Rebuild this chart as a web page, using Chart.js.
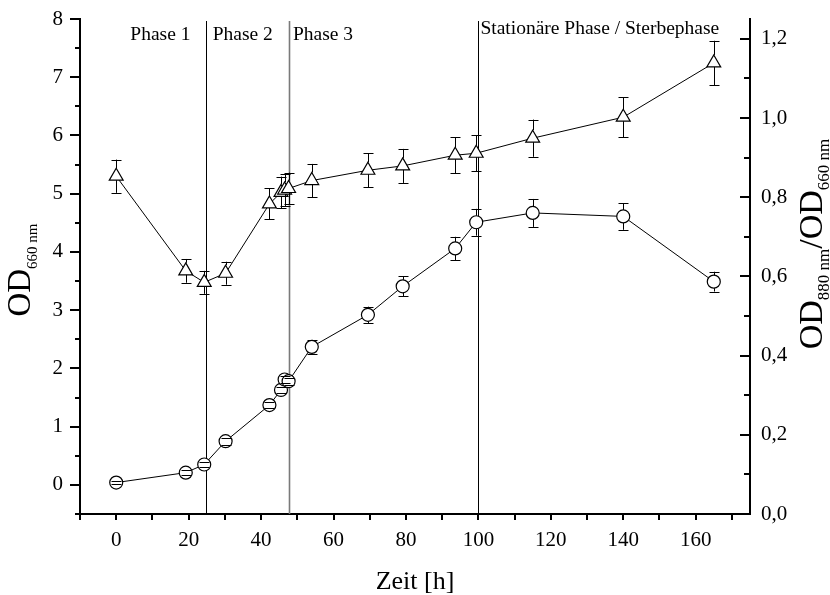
<!DOCTYPE html>
<html>
<head>
<meta charset="utf-8">
<title>Wachstum</title>
<script src="https://cdn.jsdelivr.net/npm/chart.js@4.4.1/dist/chart.umd.min.js"></script>
<style>
    html, body { margin: 0; padding: 0; background: #fff; }
    #wrap { width: 830px; height: 595px; }
</style>
</head>
<body>
<div id="wrap"><canvas id="growthChart" width="830" height="595"></canvas></div>
<script>
// Probenahme-Zeitpunkte [h]
const zeit = [0, 19.2, 24.3, 30.2, 42.3, 45.5, 46.5, 47.6, 54, 69.5, 79.1, 93.6, 99.4, 115, 140, 165];

// OD 660 nm (linke Achse) + Standardabweichung
const od660 = [0.04, 0.21, 0.35, 0.75, 1.37, 1.63, 1.81, 1.78, 2.37, 2.92, 3.41, 4.06, 4.51, 4.67, 4.61, 3.49];
const od660Err = [0.03, 0.04, 0.05, 0.06, 0.05, 0.05, 0.06, 0.06, 0.12, 0.14, 0.17, 0.2, 0.23, 0.24, 0.23, 0.17];

// OD 880 nm / OD 660 nm (rechte Achse) + Standardabweichung
const quotient = [0.853, 0.614, 0.585, 0.608, 0.783, 0.812, 0.818, 0.822, 0.842, 0.868, 0.879, 0.906, 0.911, 0.949, 1.002, 1.139];
const quotientErr = [0.042, 0.03, 0.029, 0.029, 0.039, 0.04, 0.04, 0.04, 0.042, 0.043, 0.043, 0.045, 0.045, 0.047, 0.05, 0.056];

// Achsenbeschriftung
const xTicks = [0, 20, 40, 60, 80, 100, 120, 140, 160];
const xMinor = [-10, 10, 30, 50, 70, 90, 110, 130, 150, 170];
const yLeftTicks = [0, 1, 2, 3, 4, 5, 6, 7, 8];
const yLeftMinor = [-0.5, 0.5, 1.5, 2.5, 3.5, 4.5, 5.5, 6.5, 7.5];
const yRightTicks = [0, 0.2, 0.4, 0.6, 0.8, 1.0, 1.2];
const yRightMinor = [0.1, 0.3, 0.5, 0.7, 0.9, 1.1];

// Phasengrenzen [h]
const phasenGrenzen = [24.7, 47.7, 100];
const phasenNamen = ['Phase 1', 'Phase 2', 'Phase 3', 'Stationäre Phase / Sterbephase'];

const SERIF = "'Liberation Serif', 'Times New Roman', serif";
Chart.defaults.font.family = SERIF;
Chart.defaults.font.size = 21;
Chart.defaults.color = '#000';

// Fehlerbalken: Linie vom Symbolrand bis zur Kappe
function drawErrorBars(chart, dsIndex, errors, edgeTop, edgeBottom) {
    const ctx = chart.ctx;
    const meta = chart.getDatasetMeta(dsIndex);
    const yScale = chart.scales[meta.yAxisID];
    const values = chart.data.datasets[dsIndex].data;
    ctx.save();
    ctx.strokeStyle = '#000';
    ctx.lineWidth = 1;
    meta.data.forEach((pt, i) => {
        const x = Math.round(pt.x) + 0.5;
        const y = pt.y;
        const yTop = yScale.getPixelForValue(values[i].y + errors[i]);
        const yBot = yScale.getPixelForValue(values[i].y - errors[i]);
        ctx.beginPath();
        if (y - yTop > edgeTop) {
            ctx.moveTo(x, yTop);
            ctx.lineTo(x, y - edgeTop);
        }
        if (yBot - y > edgeBottom) {
            ctx.moveTo(x, y + edgeBottom);
            ctx.lineTo(x, yBot);
        }
        ctx.moveTo(x - 5, Math.round(yTop) + 0.5);
        ctx.lineTo(x + 5, Math.round(yTop) + 0.5);
        ctx.moveTo(x - 5, Math.round(yBot) + 0.5);
        ctx.lineTo(x + 5, Math.round(yBot) + 0.5);
        ctx.stroke();
    });
    ctx.restore();
}

// Text mit Tiefstellung, um -90° gedreht
function drawRotatedTitle(ctx, cy, baseX, parts) {
    ctx.save();
    let total = 0;
    parts.forEach(p => {
        ctx.font = p.size + 'px ' + SERIF;
        p.w = ctx.measureText(p.text).width;
        total += p.w;
    });
    ctx.translate(baseX, cy);
    ctx.rotate(-Math.PI / 2);
    ctx.fillStyle = '#000';
    ctx.textBaseline = 'alphabetic';
    ctx.textAlign = 'left';
    let pos = -total / 2;
    parts.forEach(p => {
        ctx.font = p.size + 'px ' + SERIF;
        ctx.fillText(p.text, pos, p.shift || 0);
        pos += p.w;
    });
    ctx.restore();
}

const extrasPlugin = {
    id: 'extras',
    beforeDatasetsDraw(chart) {
        const ctx = chart.ctx;
        const { top, bottom } = chart.chartArea;
        const xs = chart.scales.x;
        // senkrechte Phasenlinien
        ctx.save();
        phasenGrenzen.forEach((t, i) => {
            const px = xs.getPixelForValue(t);
            ctx.beginPath();
            ctx.strokeStyle = i === 1 ? '#7a7a7a' : '#000';
            ctx.lineWidth = i === 1 ? 1.6 : 1;
            ctx.moveTo(Math.round(px) + 0.5, top + 2);
            ctx.lineTo(Math.round(px) + 0.5, bottom);
            ctx.stroke();
        });
        // Phasenbeschriftung
        ctx.fillStyle = '#000';
        ctx.font = '19.5px ' + SERIF;
        ctx.textBaseline = 'alphabetic';
        ctx.textAlign = 'left';
        ctx.fillText(phasenNamen[0], xs.getPixelForValue(3.9), top + 21);
        ctx.fillText(phasenNamen[1], xs.getPixelForValue(phasenGrenzen[0]) + 7, top + 21);
        ctx.fillText(phasenNamen[2], xs.getPixelForValue(phasenGrenzen[1]) + 4, top + 21);
        ctx.fillText(phasenNamen[3], xs.getPixelForValue(phasenGrenzen[2]) + 2, top + 15);
        ctx.restore();
    },
    afterDatasetsDraw(chart) {
        drawErrorBars(chart, 0, od660Err, 6.5, 6.5);
        drawErrorBars(chart, 1, quotientErr, 8, 4);
    },
    afterDraw(chart) {
        const ctx = chart.ctx;
        const xs = chart.scales.x, yl = chart.scales.yL, yr = chart.scales.yR;
        const { left, right, bottom } = chart.chartArea;
        ctx.save();
        ctx.strokeStyle = '#000';
        ctx.lineWidth = 2;
        ctx.beginPath();
        // x-Achse: Striche nach außen
        xTicks.concat(xMinor).forEach(v => {
            const px = Math.round(xs.getPixelForValue(v));
            ctx.moveTo(px, bottom);
            ctx.lineTo(px, bottom + 6);
        });
        // linke Achse: nach außen
        yLeftTicks.forEach(v => {
            const py = Math.round(yl.getPixelForValue(v));
            ctx.moveTo(left, py);
            ctx.lineTo(left - 10, py);
        });
        yLeftMinor.forEach(v => {
            const py = Math.round(yl.getPixelForValue(v));
            ctx.moveTo(left, py);
            ctx.lineTo(left - 5, py);
        });
        // rechte Achse: nach innen
        yRightTicks.forEach(v => {
            const py = Math.round(yr.getPixelForValue(v));
            ctx.moveTo(right, py);
            ctx.lineTo(right - 10, py);
        });
        yRightMinor.forEach(v => {
            const py = Math.round(yr.getPixelForValue(v));
            ctx.moveTo(right, py);
            ctx.lineTo(right - 6, py);
        });
        ctx.stroke();
        ctx.restore();

        drawRotatedTitle(ctx, 270, 30, [
            { text: 'OD', size: 33 },
            { text: '660 nm', size: 15, shift: 7 }
        ]);
        drawRotatedTitle(ctx, 244, 822, [
            { text: 'OD', size: 34 },
            { text: '880 nm', size: 17, shift: 7 },
            { text: '/OD', size: 34 },
            { text: '660 nm', size: 17, shift: 7 }
        ]);
    }
};

const toPoints = (ys) => zeit.map((t, i) => ({ x: t, y: ys[i] }));

// Randabstand der Beschriftung nicht auf die Zeichenfläche aufschlagen
const noEdgePadding = (scale) => {
    scale.paddingTop = 0;
    scale.paddingBottom = 0;
    scale.paddingLeft = 0;
    scale.paddingRight = 0;
};

new Chart(document.getElementById('growthChart'), {
    type: 'line',
    data: {
        datasets: [
            {
                label: 'OD660',
                data: toPoints(od660),
                yAxisID: 'yL',
                borderColor: '#000',
                borderWidth: 1,
                pointStyle: 'circle',
                pointRadius: 6.5,
                pointBorderWidth: 1.2,
                pointBackgroundColor: '#fff',
                pointBorderColor: '#000',
                tension: 0
            },
            {
                label: 'OD880/OD660',
                data: toPoints(quotient),
                yAxisID: 'yR',
                borderColor: '#000',
                borderWidth: 1,
                pointStyle: 'triangle',
                pointRadius: 8,
                pointBorderWidth: 1.2,
                pointBackgroundColor: '#fff',
                pointBorderColor: '#000',
                tension: 0
            }
        ]
    },
    options: {
        responsive: false,
        animation: false,
        devicePixelRatio: 1,
        layout: { padding: { top: 19, left: 0, right: 0, bottom: 0 } },
        plugins: {
            legend: { display: false },
            tooltip: { enabled: false }
        },
        scales: {
            x: {
                type: 'linear',
                position: 'bottom',
                min: -10,
                max: 175,
                afterBuildTicks: (scale) => { scale.ticks = xTicks.map(v => ({ value: v })); },
                afterFit: (scale) => { scale.height = 81; noEdgePadding(scale); },
                ticks: { padding: 14, callback: (v) => String(v) },
                grid: { display: false, drawTicks: false },
                border: { display: true, color: '#000', width: 2 },
                title: { display: true, text: 'Zeit [h]', font: { size: 26, lineHeight: 1 }, padding: { top: 0, bottom: 0 } }
            },
            yL: {
                type: 'linear',
                position: 'left',
                min: -0.5,
                max: 8,
                afterBuildTicks: (scale) => { scale.ticks = yLeftTicks.map(v => ({ value: v })); },
                afterFit: (scale) => { scale.width = 80; noEdgePadding(scale); },
                ticks: { padding: 17, callback: (v) => String(v) },
                grid: { display: false, drawTicks: false },
                border: { display: true, color: '#000', width: 2 }
            },
            yR: {
                type: 'linear',
                position: 'right',
                min: 0,
                max: 1.25,
                afterBuildTicks: (scale) => { scale.ticks = yRightTicks.map(v => ({ value: v })); },
                afterFit: (scale) => { scale.width = 80; noEdgePadding(scale); },
                ticks: { padding: 11, callback: (v) => v.toFixed(1).replace('.', ',') },
                grid: { display: false, drawTicks: false },
                border: { display: true, color: '#000', width: 2 }
            }
        }
    },
    plugins: [extrasPlugin]
});
</script>
</body>
</html>
